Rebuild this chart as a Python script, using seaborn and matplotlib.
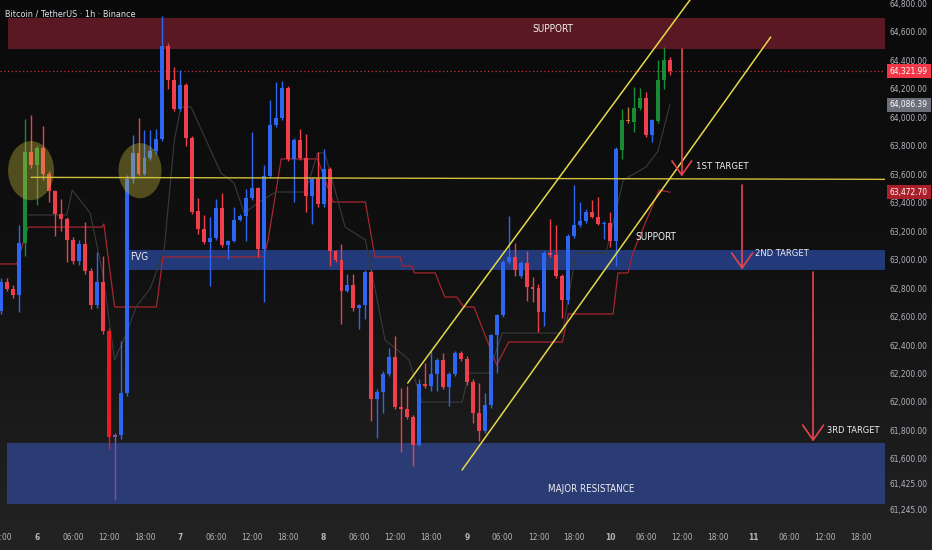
import numpy as np
import matplotlib
matplotlib.use("Agg")
import matplotlib.pyplot as plt
import matplotlib.transforms as mtransforms
from matplotlib import font_manager
from matplotlib.font_manager import FontProperties
from matplotlib.colors import LinearSegmentedColormap
from matplotlib.patches import Ellipse, Rectangle
import seaborn as sns

# ---- candle data (hour 0 = day 6 00:00) ----
hours = list(range(-6, 107))
opens = [62640, 62840, 62795, 62750, 63117, 63755, 63666, 63783, 63600, 63478,
         63318, 63286, 63135, 62992, 63110, 62922, 62680, 62845, 62500, 61753,
         61765, 62065, 63567, 63750, 63602, 63713, 63760, 63849, 64501, 64260,
         64055, 64224, 63856, 63344, 63211, 63121, 63150, 63361, 63103, 63133,
         63279, 63309, 63431, 63504, 63074, 63586, 63948, 63997, 64201, 63703,
         63837, 63715, 63445, 63567, 63387, 63633, 63058, 62999, 62781, 62821,
         62657, 62680, 62910, 62023, 62070, 62199, 62316, 61964, 61953, 61896,
         61701, 62124, 62112, 62199, 62293, 62107, 62199, 62347, 62305, 62140,
         61920, 61795, 61976, 62469, 62610, 62985, 63016, 62882, 62976, 62805,
         62800, 62633, 63046, 63032, 62887, 62718, 63168, 63243, 63274, 63337,
         63297, 63250, 63260, 63133, 63767, 63971, 63966, 64065, 64131, 63872,
         63976, 64258, 64399]
highs = [62870, 62870, 62820, 63239, 63990, 64018, 63800, 63938, 63620, 63490,
         63426, 63300, 63160, 63140, 63262, 62940, 63051, 63027, 62520, 61780,
         62429, 63590, 63872, 63994, 63908, 63908, 63919, 64708, 64520, 64354,
         64330, 64240, 63870, 63431, 63314, 63297, 63422, 63469, 63140, 63368,
         63320, 63497, 63896, 63510, 63661, 64119, 64248, 64253, 64215, 63850,
         63919, 63884, 63580, 63755, 63778, 63650, 63070, 63110, 62898, 62898,
         62690, 62930, 62930, 62090, 62220, 62382, 62464, 62100, 62112, 61910,
         62159, 62276, 62359, 62310, 62347, 62210, 62359, 62360, 62320, 62160,
         62136, 62065, 62480, 62620, 63000, 63309, 63117, 62990, 63063, 62880,
         62830, 63060, 63286, 63239, 62900, 63180, 63525, 63403, 63356, 63415,
         63438, 63270, 63333, 63790, 64060, 64072, 64213, 64201, 64178, 63990,
         64400, 64490, 64420]
lows = [62620, 62780, 62730, 62629, 63027, 63640, 63380, 63560, 63403, 63168,
        63203, 62980, 62970, 62960, 62900, 62650, 62660, 62480, 61671, 61315,
        61740, 62040, 63540, 63590, 63590, 63700, 63740, 63830, 64200, 64040,
        64040, 63797, 63321, 63180, 63110, 62816, 63140, 63090, 63004, 63120,
        63270, 63133, 63420, 63016, 62699, 63570, 63930, 63980, 63690, 63403,
        63700, 63333, 63250, 63370, 63370, 62957, 62980, 62546, 62770, 62640,
        62511, 62582, 61866, 61748, 61924, 62180, 61950, 61650, 61880, 61549,
        61690, 62100, 62077, 62077, 62090, 61971, 62180, 62290, 62120, 61854,
        61725, 61780, 61960, 62206, 62600, 62970, 62887, 62870, 62711, 62700,
        62488, 62535, 63020, 62870, 62593, 62687, 63150, 63230, 63260, 63290,
        63240, 63145, 63086, 62957, 63708, 63960, 63896, 64050, 63860, 63825,
        63960, 64200, 64293]
closes = [62840, 62795, 62750, 63117, 63755, 63666, 63783, 63600, 63478, 63318,
          63286, 63135, 62992, 63110, 62922, 62680, 62845, 62500, 61753, 61765,
          62065, 63567, 63750, 63602, 63713, 63760, 63849, 64501, 64260, 64055,
          64224, 63856, 63333, 63211, 63121, 63150, 63361, 63103, 63133, 63279,
          63309, 63431, 63504, 63074, 63586, 63948, 63997, 64201, 63703, 63837,
          63715, 63445, 63567, 63387, 63633, 63058, 62999, 62781, 62821, 62657,
          62680, 62910, 62023, 62070, 62199, 62316, 61964, 61953, 61896, 61701,
          62124, 62112, 62199, 62293, 62107, 62199, 62347, 62305, 62140, 61920,
          61795, 61976, 62469, 62610, 62985, 63016, 62929, 62976, 62805, 62790,
          62633, 63046, 63032, 62887, 62718, 63168, 63243, 63274, 63337, 63297,
          63250, 63260, 63133, 63774, 63978, 63983, 64065, 64131, 63872, 63983,
          64258, 64399, 64322]
bar_codes = ("brrbgrgrrr" "rrrbrrbrRp" "bbbrbbbbrr" "brrrrbbrbb" "bbbrbbbbrb"
             "rrbrbrrrbr" "bbrbbbrrrr" "brbbrbbrrr" "rbbbbbrbrr" "rbrrrbbbbr"
             "rbrbgoggrb" "ggr")

# indicator lines (baseline / conversion)
red_h = [-6.2, -3.4, -1.5, 10.9, 11.2, 13.0, 20.0, 21.1, 38.0, 38.7, 40.9, 47.0,
         49.6, 55.0, 56.6, 60.8, 61.2, 62.8, 63.2, 66.7, 68.3, 70.3, 71.5, 73.2,
         77.0, 79.0, 88.0, 89.0, 96.5, 97.3, 99.0, 99.8, 104.2, 106.0]
red_p = [62969, 62969, 63228, 63228, 63250, 62667, 62667, 63018, 63018, 63137,
         63706, 63706, 63404, 63404, 63018, 63018, 62955, 62955, 62906, 62906,
         62737, 62737, 62667, 62667, 62260, 62421, 62421, 62618, 62618, 62906,
         62906, 63046, 63488, 63473]
gray_h = [-1.5, 5.0, 5.9, 8.9, 11.0, 13.0, 15.0, 16.6, 19.0, 21.3, 23.0, 24.1,
          25.8, 30.8, 33.0, 34.7, 37.7, 40.0, 45.0, 47.0, 48.2, 51.6, 55.0, 58.3,
          61.0, 62.3, 64.5, 71.2, 72.4, 75.7, 77.9, 88.0, 90.3, 95.3, 98.2, 102.0,
          104.0, 106.0]
gray_p = [63313, 63313, 63488, 63327, 62906, 62295, 62484, 62667, 62800, 63067,
          63839, 64071, 64071, 63608, 63537, 63327, 63418, 63474, 63474, 63748,
          63748, 63229, 63137, 62435, 62344, 62295, 61999, 61999, 62203, 62203,
          62484, 62484, 63046, 63046, 63558, 63650, 63760, 64086]

# axis labels
tick_hours = [-6, 0, 6, 12, 18, 24, 30, 36, 42, 48, 54, 60, 66, 72, 78, 84, 90,
              96, 102, 108, 114, 120, 126, 132, 138]
tick_labels = ["18:00", "6", "06:00", "12:00", "18:00", "7", "06:00", "12:00",
               "18:00", "8", "06:00", "12:00", "18:00", "9", "06:00", "12:00",
               "18:00", "10", "06:00", "12:00", "18:00", "11", "06:00", "12:00",
               "18:00"]
price_ticks = [64800, 64600, 64400, 64200, 64000, 63800, 63600, 63400, 63200,
               63000, 62800, 62600, 62400, 62200, 62000, 61800, 61600, 61425, 61245]
last_price = 64321.99
gray_label = 64086.39
base_label = 63472.70


def pick_font():
    for fam, key in [("Liberation Sans Narrow", "narrow"), ("DejaVu Sans", "condensed")]:
        try:
            path = font_manager.findfont(FontProperties(family=fam, stretch="condensed"),
                                         fallback_to_default=False)
        except ValueError:
            continue
        if key in path.lower():
            return fam, "condensed"
    return "DejaVu Sans", "normal"


# ---- style ----
sns.set_style("dark")
font, stretch = pick_font()
plt.rcParams["font.family"] = [font, "DejaVu Sans"]
plt.rcParams["font.stretch"] = stretch

W, H = 932, 550
fig = plt.figure(figsize=(W / 100, H / 100), dpi=100)

bg = fig.add_axes([0, 0, 1, 1], zorder=0)
grad = np.linspace(0, 1, 256).reshape(-1, 1)
cmap = LinearSegmentedColormap.from_list("bg", ["#0a0a0a", "#111111", "#232323"])
bg.imshow(grad, aspect="auto", cmap=cmap, extent=[0, 1, 0, 1], origin="upper")
bg.axis("off")

ax = fig.add_axes([0, 28 / H, 885 / W, 522 / H], zorder=1)
ax.patch.set_alpha(0)
ymax = 64822
ax.set_ylim(ymax - 522 * 7.02, ymax)
ax.set_xlim(-6.2, 142.04)
for s in ax.spines.values():
    s.set_visible(False)
ax.grid(False)

# zones
ax.add_patch(Rectangle((-4.86, 64478), 200, 218, fc="#5a1922", ec="none", zorder=1))
ax.add_patch(Rectangle((15.24, 62927), 200, 140, fc="#22397a", ec="none", zorder=1))
ax.add_patch(Rectangle((-5.03, 61284), 200, 428, fc="#2b3b74", ec="none", zorder=1))

# circles
for cx, w, hgt in [(-1.0, 7.7, 415), (17.25, 7.2, 387)]:
    ax.add_patch(Ellipse((cx, 63624), w, hgt, fc="#d8c840", ec="none", alpha=0.34, zorder=4))

# current price dotted line
ax.axhline(last_price, color="#c8303f", lw=0.9, ls=(0, (1, 2)), zorder=2)

# indicator lines
sns.lineplot(x=red_h, y=red_p, ax=ax, color="#a5262f", lw=0.9, zorder=2)
sns.lineplot(x=gray_h, y=gray_p, ax=ax, color="#3a3a3a", lw=0.8, zorder=2)

# candles
cmapc = {"b": "#2e66f2", "r": "#ef3e4c", "R": "#ea1a20", "g": "#188c35",
         "o": "#c07a30", "p": "#8b4cb0"}
cols = [cmapc[c] for c in bar_codes]
o = np.array(opens); c = np.array(closes)
bottom = np.minimum(o, c)
height = np.maximum(np.abs(c - o), 9)
ax.vlines(hours, lows, highs, colors=cols, lw=1, zorder=3)
ax.bar(hours, height, bottom=bottom, width=0.66, color=cols, lw=0, zorder=3)

# yellow lines
ax.plot([-1.0, 142.04], [63577, 63563], color="#d0c03c", lw=1.0, zorder=5)
ax.plot([62.1, 110.0], [62133, 64858], color="#e6d84a", lw=1.1, zorder=5)
ax.plot([71.2, 122.9], [61523, 64562], color="#e6d84a", lw=1.1, zorder=5)

# target arrows
arrows = [(108.0, 64478, 63594, 1.65, 98), (118.1, 63523, 62941, 1.75, 105),
          (130.0, 62913, 61733, 1.75, 105)]
for xa, top, tip, hw, hh in arrows:
    ax.plot([xa, xa], [top, tip], color="#e8444f", lw=1.2, zorder=5)
    ax.plot([xa - hw, xa, xa + hw], [tip + hh, tip, tip + hh], color="#e8444f", lw=1.2, zorder=5)

# annotation texts, sized from the pixel widths seen in the reference
notes = [(110.4, 63650, "1ST TARGET", "left", 52), (120.3, 63039, "2ND TARGET", "left", 54),
         (132.3, 61803, "3RD TARGET", "left", 53), (100.3, 63158, "SUPPORT", "left", 41),
         (15.6, 63018, "FVG", "left", 18), (86.4, 64618, "SUPPORT", "center", 41),
         (92.8, 61389, "MAJOR RESISTANCE", "center", 86)]
fitted = []
for xn, yn, s, ha, wpx in notes:
    t = ax.text(xn, yn, s, ha=ha, va="center", color="#f0f0f0", fontsize=9, zorder=6)
    fitted.append((t, wpx))

title = fig.text(5 / W, 1 - 14 / H, "Bitcoin / TetherUS · 1h · Binance", color="#e0e3eb",
                 fontsize=8, va="center", ha="left")
fitted.append((title, 130))

renderer = fig.canvas.get_renderer()
for t, wpx in fitted:
    wnow = t.get_window_extent(renderer).width
    t.set_fontsize(min(t.get_fontsize() * wpx / wnow, 10))

# tick label size fitted to reference widths
probe = fig.text(0, 0, "64,800.00", fontsize=8)
tick_fs = min(8 * 38 / probe.get_window_extent(renderer).width, 8)
probe.remove()

ax.set_xticks(tick_hours)
ax.set_xticklabels(tick_labels)
for lab in ax.get_xticklabels():
    if ":" not in lab.get_text():
        lab.set_fontweight("bold")
ax.tick_params(axis="x", length=0, pad=8.0, labelsize=tick_fs, labelcolor="#b2b5be")
ax.yaxis.tick_right()
ax.set_yticks(price_ticks)
ax.set_yticklabels([f"{v:,.2f}" for v in price_ticks])
ax.tick_params(axis="y", length=0, pad=3.2, labelsize=tick_fs, labelcolor="#b2b5be")
ax.set_xlabel("")
ax.set_ylabel("")

trans = mtransforms.blended_transform_factory(ax.transAxes, ax.transData)
for val, fc in [(last_price, "#f23645"), (gray_label, "#6c6f7a"), (base_label, "#a91f2a")]:
    ax.text(1.0 + 5 / 885, val, f"{val:,.2f}", transform=trans, ha="left", va="center",
            color="white", fontsize=tick_fs, clip_on=False, zorder=7,
            bbox=dict(boxstyle="square,pad=0.3", fc=fc, ec="none"))

fig.savefig("out.png", dpi=100)
